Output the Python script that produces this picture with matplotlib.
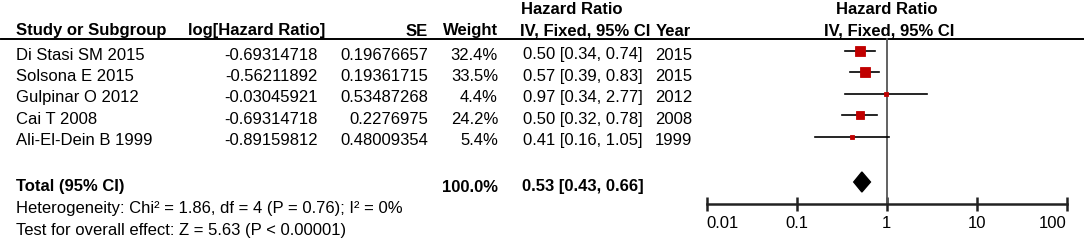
import matplotlib.pyplot as plt
from matplotlib.patches import Polygon

plt.rcParams['font.family'] = ['Liberation Sans', 'DejaVu Sans']

studies = ["Di Stasi SM 2015", "Solsona E 2015", "Gulpinar O 2012", "Cai T 2008", "Ali-El-Dein B 1999"]
log_hr = ["-0.69314718", "-0.56211892", "-0.03045921", "-0.69314718", "-0.89159812"]
se = ["0.19676657", "0.19361715", "0.53487268", "0.2276975", "0.48009354"]
weight = [32.4, 33.5, 4.4, 24.2, 5.4]
hr = [0.50, 0.57, 0.97, 0.50, 0.41]
ci_lo = [0.34, 0.39, 0.34, 0.32, 0.16]
ci_hi = [0.74, 0.83, 2.77, 0.78, 1.05]
year = [2015, 2015, 2012, 2008, 1999]

total_weight = 100.0
total_hr = 0.53
total_lo = 0.43
total_hi = 0.66
heterogeneity = "Heterogeneity: Chi² = 1.86, df = 4 (P = 0.76); I² = 0%"
overall = "Test for overall effect: Z = 5.63 (P < 0.00001)"

ticks = [0.01, 0.1, 1, 10, 100]
tick_labels = ["0.01", "0.1", "1", "10", "100"]

W, H = 1084, 244
fig = plt.figure(figsize=(W / 100, H / 100), dpi=100)

# text layer in pixel coordinates
ax = fig.add_axes([0, 0, 1, 1])
ax.set_xlim(0, W)
ax.set_ylim(H, 0)
ax.axis("off")

fs = 12
row_y = [55 + 21.4 * i for i in range(len(studies))]

# headers
ax.text(16, 31, "Study or Subgroup", fontsize=fs, fontweight="bold", va="center")
ax.text(325, 31, "log[Hazard Ratio]", fontsize=fs, fontweight="bold", va="center", ha="right")
ax.text(428, 31, "SE", fontsize=fs, fontweight="bold", va="center", ha="right")
ax.text(498, 31, "Weight", fontsize=fs, fontweight="bold", va="center", ha="right")
ax.text(521, 10, "Hazard Ratio", fontsize=fs, fontweight="bold", va="center")
ax.text(520, 31, "IV, Fixed, 95% CI", fontsize=fs, fontweight="bold", va="center")
ax.text(656, 31, "Year", fontsize=fs, fontweight="bold", va="center")
ax.text(887, 10, "Hazard Ratio", fontsize=fs, fontweight="bold", va="center", ha="center")
ax.text(889, 31, "IV, Fixed, 95% CI", fontsize=fs, fontweight="bold", va="center", ha="center")
ax.plot([1, W], [39, 39], color="black", lw=1.4)

for i, name in enumerate(studies):
    y = row_y[i]
    ax.text(16, y, name, fontsize=fs, va="center")
    ax.text(318, y, log_hr[i], fontsize=fs, va="center", ha="right")
    ax.text(428, y, se[i], fontsize=fs, va="center", ha="right")
    ax.text(498, y, f"{weight[i]:.1f}%", fontsize=fs, va="center", ha="right")
    ax.text(523, y, f"{hr[i]:.2f} [{ci_lo[i]:.2f}, {ci_hi[i]:.2f}]", fontsize=fs, va="center")
    ax.text(655, y, str(year[i]), fontsize=fs, va="center")

ax.text(16, 187, "Total (95% CI)", fontsize=fs, fontweight="bold", va="center")
ax.text(498, 187, f"{total_weight:.1f}%", fontsize=fs, fontweight="bold", va="center", ha="right")
ax.text(522, 187, f"{total_hr:.2f} [{total_lo:.2f}, {total_hi:.2f}]", fontsize=fs,
        fontweight="bold", va="center")
ax.text(16, 208.5, heterogeneity, fontsize=fs, va="center")
ax.text(16, 230.5, overall, fontsize=fs, va="center")

# forest panel
x0, x1 = 706.7, 1066.7
y_axis, y_top = 204, 39
fax = fig.add_axes([x0 / W, (H - y_axis) / H, (x1 - x0) / W, (y_axis - y_top) / H])
fax.set_facecolor("none")
fax.set_xscale("log")
fax.set_xlim(0.01, 100)
fax.set_ylim(y_axis, y_top)
for s in ["top", "left", "right"]:
    fax.spines[s].set_visible(False)
fax.spines["bottom"].set_linewidth(1.8)
fax.spines["bottom"].set_color("#222222")
fax.set_yticks([])
fax.set_xticks(ticks)
fax.set_xticklabels(tick_labels, fontsize=fs)
fax.minorticks_off()
fax.tick_params(axis="x", direction="inout", length=10, width=1.8, color="#222222", pad=4)
labels = fax.get_xticklabels()
labels[0].set_horizontalalignment("left")
labels[-1].set_horizontalalignment("right")

fax.plot([1, 1], [y_top, y_axis], color="#555555", lw=1.3, clip_on=False)

for i in range(len(studies)):
    y = row_y[i] - 4
    fax.plot([ci_lo[i], ci_hi[i]], [y, y], color="black", lw=1.2)
    side = max(0.31 * weight[i], 3.2)
    fax.plot(hr[i], y, marker="s", markersize=side * 0.75, color="#C00000",
             mec="#C00000", mew=0.6, linestyle="none")

yd = 182
diamond = Polygon([(total_lo, yd), (total_hr, yd - 10), (total_hi, yd), (total_hr, yd + 10)],
                  closed=True, color="black")
fax.add_patch(diamond)

fig.savefig("out.png", dpi=100)
